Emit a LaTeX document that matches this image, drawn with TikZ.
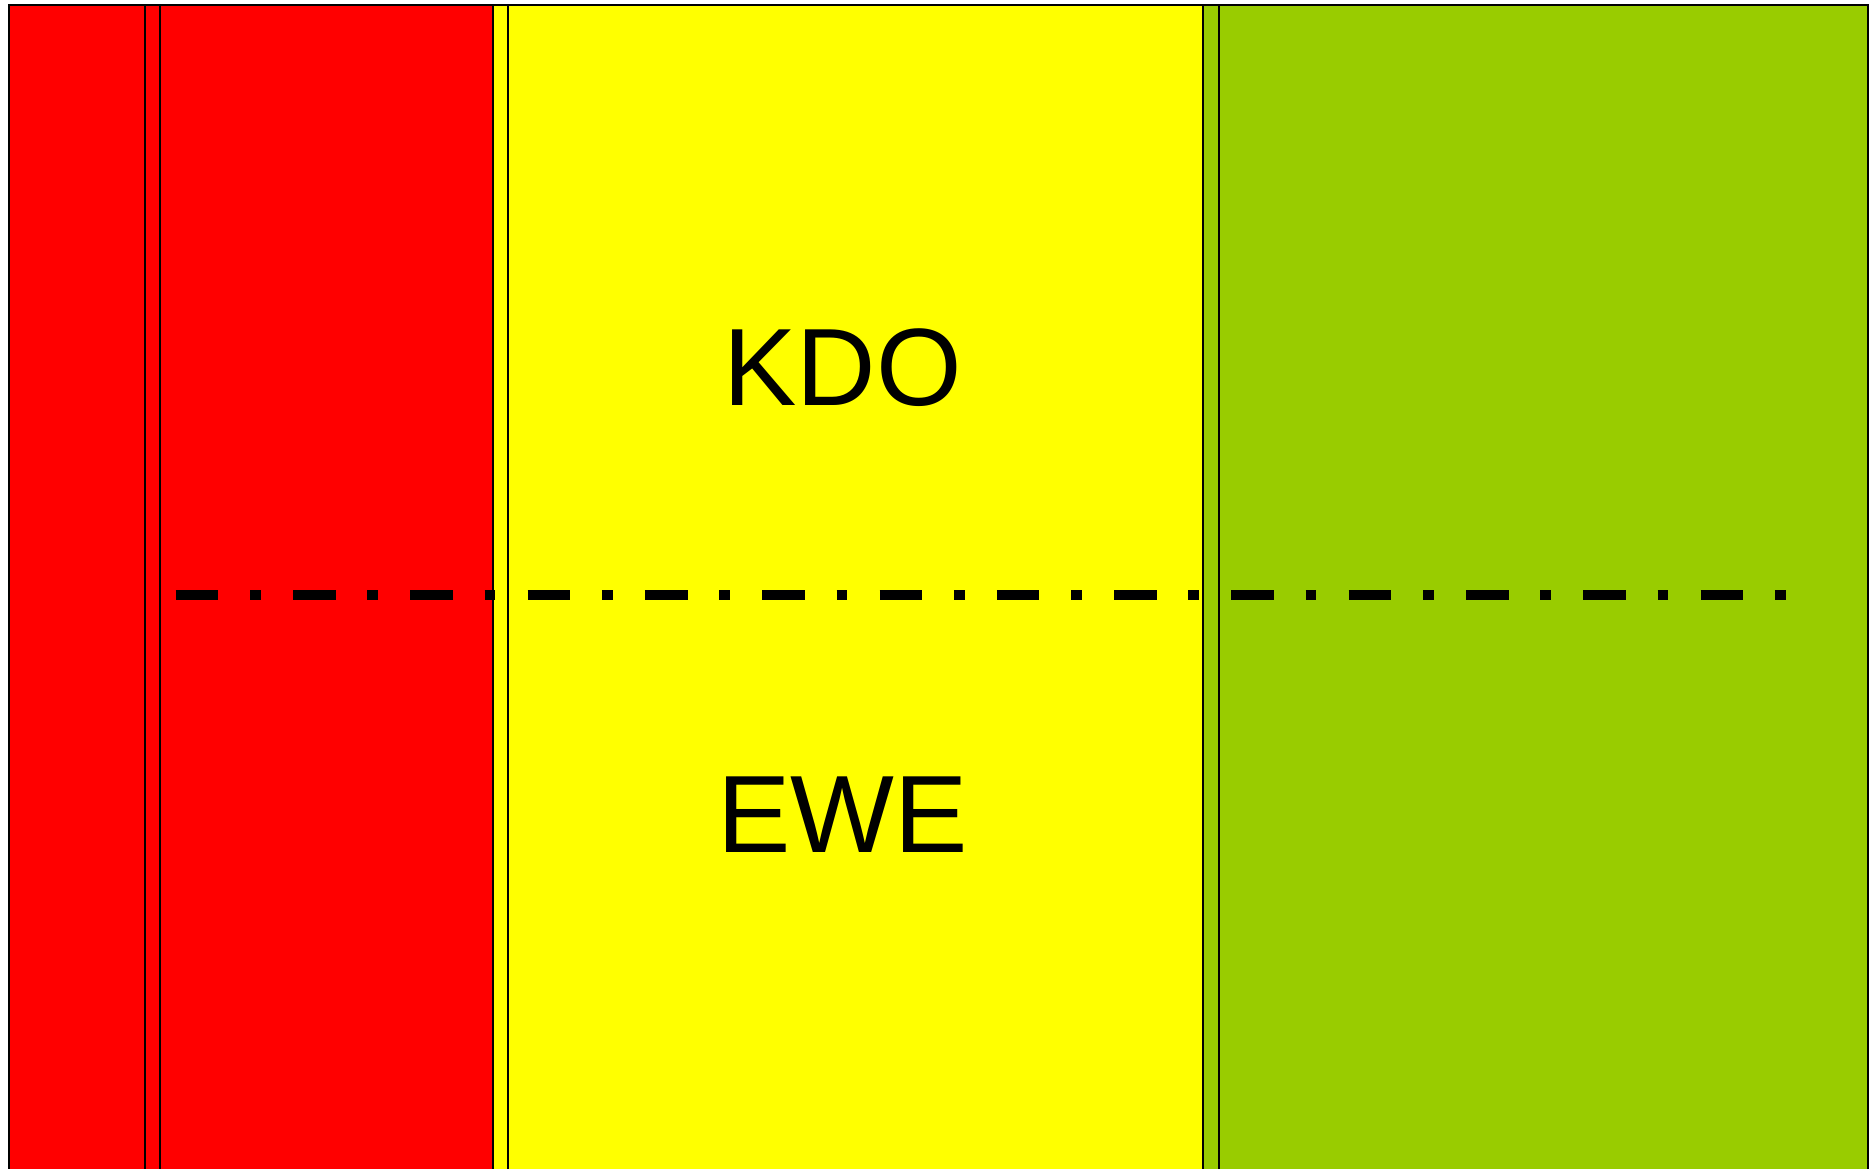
\documentclass[tikz,border=0pt]{standalone}
\usepackage{fontspec}
\setmainfont{Liberation Sans}
\definecolor{cred}{HTML}{FF0000}
\definecolor{cyellow}{HTML}{FFFF00}
\definecolor{cgreen}{HTML}{99CC00}
\begin{document}
\begin{tikzpicture}[x=1pt,y=-1pt,
  band/.style={draw=black,line width=2pt},
  lbl/.style={inner sep=0pt,anchor=base,font=\fontsize{110}{120}\selectfont},
  dashdot/.style={line width=10pt,line cap=butt,dash pattern=on 42.6pt off 31.7pt on 10.7pt off 32.3pt}]
\useasboundingbox (0,0) rectangle (1870,1169);
\fill[white] (0,0) rectangle (1870,1169);
\draw[band,fill=cred] (9,5) rectangle (145,1170);
\draw[band,fill=cred] (145,5) rectangle (160,1170);
\draw[band,fill=cred] (160,5) rectangle (493,1170);
\draw[band,fill=cyellow] (493,5) rectangle (508,1170);
\draw[band,fill=cyellow] (508,5) rectangle (1203,1170);
\draw[band,fill=cgreen] (1203,5) rectangle (1219,1170);
\draw[band,fill=cgreen] (1219,5) rectangle (1868,1170);
\coordinate (ls) at (175.7,595);
\coordinate (le) at (1788,595);
\draw[dashdot] (ls) -- (le);
\node[lbl] (kdo) at (842.5,405) {KDO};
\node[lbl] (ewe) at (842.5,852) {EWE};
\end{tikzpicture}
\end{document}
